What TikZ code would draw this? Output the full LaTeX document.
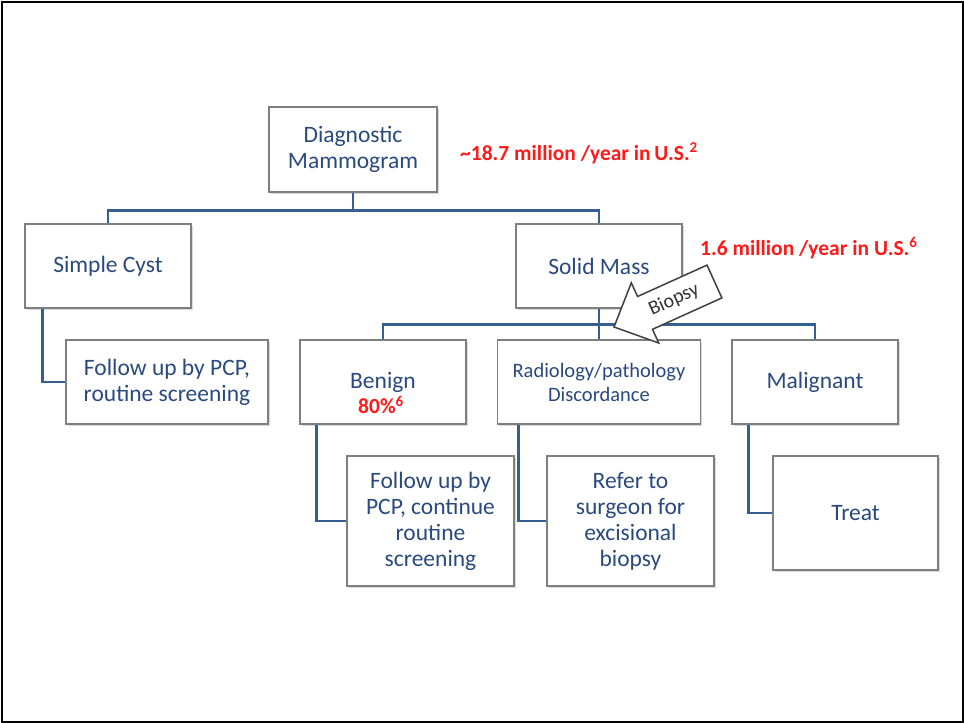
\documentclass[tikz,border=0pt]{standalone}
\usepackage{fontspec}
\setmainfont{Carlito}
\usetikzlibrary{shadows}
\definecolor{txtblue}{HTML}{2A4A7F}
\definecolor{conn}{HTML}{365F91}
\definecolor{boxgray}{HTML}{7F7F7F}
\definecolor{stat}{HTML}{FF1A1A}
\begin{document}
\begin{tikzpicture}[x=1pt,y=-1pt,
  box/.style={draw=boxgray, line width=1.5pt, fill=white, text=txtblue, align=center,
    inner sep=2pt, font=\fontsize{23.5}{26}\selectfont,
    drop shadow={shadow xshift=1.5pt, shadow yshift=-1.5pt, opacity=0.3}},
  smallbox/.style={box, font=\fontsize{20.5}{24}\selectfont},
  link/.style={draw=conn, line width=2.8pt},
  stattext/.style={text=stat, font=\bfseries\fontsize{21.5}{24}\selectfont, anchor=west, inner sep=0pt},
]
\useasboundingbox (0,0) rectangle (964,723);
\draw[black, line width=2pt] (1.5,1.5) rectangle (962.5,721.5);

% nodes
\node[box, minimum width=168pt, minimum height=85pt] (dm) at (353,149.5) {Diagnostic\\Mammogram};
\node[box, minimum width=166pt, minimum height=84pt] (cyst) at (108,266) {Simple Cyst};
\node[box, minimum width=166pt, minimum height=84pt] (solid) at (599,266) {Solid Mass};
\node[box, minimum width=202pt, minimum height=84pt] (fu1) at (167,382) {Follow up by PCP,\\routine screening};
\node[box, minimum width=166pt, minimum height=84pt] (benign) at (383,382) {Benign};
\node[smallbox, minimum width=203pt, minimum height=84pt] (radio) at (599,382) {Radiology/pathology\\Discordance};
\node[box, minimum width=166pt, minimum height=84pt] (malig) at (815,382) {Malignant};
\node[box, minimum width=167pt, minimum height=130pt] (fu2) at (430.5,521) {Follow up by\\PCP, continue\\routine\\screening};
\node[box, minimum width=167pt, minimum height=130pt] (refer) at (630.5,521) {Refer to\\surgeon for\\excisional\\biopsy};
\node[box, minimum width=165pt, minimum height=114pt] (treat) at (855.5,513) {Treat};

% connectors
\draw[link] (dm.south) -- ++(0,18) coordinate (j1);
\draw[link] (cyst.north) |- (j1) -| (solid.north);
\draw[link] ([xshift=18pt]cyst.south west) |- (fu1.west);
\draw[link] (solid.south) -- ++(0,16) coordinate (j2);
\draw[link] (benign.north) |- (j2) -| (malig.north);
\draw[link] (j2) -- (radio.north);
\draw[link] ([xshift=17pt]benign.south west) |- (fu2.west);
\draw[link] ([xshift=22pt]radio.south west) |- (refer.west);
\draw[link] ([xshift=17pt]malig.south west) |- (treat.west);

% statistics
\node[stattext] (s1) at (460,153) {\textasciitilde18.7 million /year in\,U.S.\textsuperscript{2}};
\node[stattext] (s2) at (700,248) {1.6 million /year in U.S.\textsuperscript{6}};
\node[stattext, anchor=center] (s3) at (381,405) {80\%\textsuperscript{6}};

% biopsy arrow
\draw[draw=black!75, line width=1.5pt, fill=white, line join=miter]
  (614,327) -- (631.3,282.8) -- (637.6,296.5) -- (707.0,265.1) -- (721.9,297.9)
  -- (652.5,329.3) -- (658.7,343.0) -- cycle;
\node[rotate=24.4, inner sep=0pt, font=\fontsize{20}{22}\selectfont, text=black!80] (biopsy) at (674,300) {Biopsy};
\end{tikzpicture}
\end{document}
